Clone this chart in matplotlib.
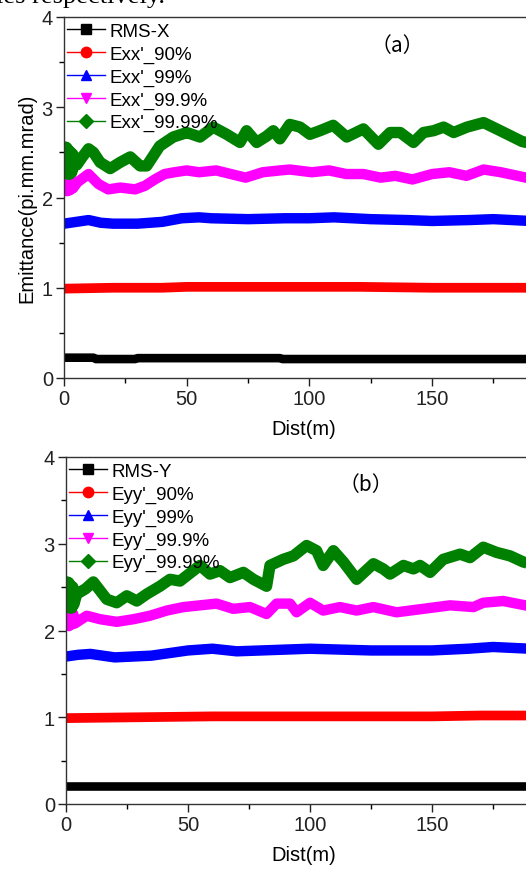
import matplotlib
matplotlib.use("Agg")
import matplotlib.pyplot as plt
from matplotlib.lines import Line2D
from matplotlib.ticker import MultipleLocator

# ---------------- data ----------------
# Panel (a)
a_black_d = [0, 12, 13, 29, 30, 88, 89, 190]
a_black_v = [0.225, 0.225, 0.21, 0.21, 0.22, 0.22, 0.21, 0.21]

a_red_d = [0, 20, 40, 50, 80, 120, 150, 190]
a_red_v = [0.99, 1.0, 1.0, 1.01, 1.01, 1.01, 1.0, 1.0]

a_blue_d = [0, 5, 10, 15, 20, 30, 40, 48, 55, 60, 75, 90, 100, 110, 125, 140, 150, 165, 175, 190]
a_blue_v = [1.71, 1.73, 1.75, 1.72, 1.71, 1.71, 1.73, 1.77, 1.78, 1.77, 1.76, 1.77, 1.77, 1.78,
            1.76, 1.75, 1.74, 1.75, 1.76, 1.74]

a_mag_d = [0, 0.6, 1.2, 1.8, 2.4, 3, 3.6, 5.5, 10, 14, 18, 23, 29, 33, 37, 41, 45, 50, 55, 62,
           68, 74, 81, 88, 92, 101, 108, 115, 122, 129, 135, 142, 150, 157, 164, 171, 178, 190]
a_mag_v = [2.06, 2.2, 2.07, 2.22, 2.08, 2.2, 2.1, 2.17, 2.26, 2.15, 2.09, 2.11, 2.09, 2.13,
           2.2, 2.26, 2.28, 2.3, 2.28, 2.3, 2.26, 2.22, 2.28, 2.3, 2.31, 2.28, 2.3, 2.26, 2.26,
           2.22, 2.24, 2.2, 2.26, 2.28, 2.24, 2.31, 2.28, 2.21]

a_grn_d = [0, 0.4, 0.8, 1.2, 1.6, 2.0, 2.4, 2.8, 3.2, 3.6, 5.2, 7.5, 10, 12, 14.7, 18.8, 22.9,
           27, 31, 33.7, 39, 44.5, 47.9, 50, 55.4, 60.8, 66.3, 71.7, 74.4, 78.5, 82.6, 85.3,
           88, 92, 96.2, 100.2, 104.3, 109.7, 115.2, 122, 128.1, 132.9, 137, 142.4, 146.5,
           150.6, 154.7, 158.8, 164.2, 171, 177.8, 186.7, 190]
a_grn_v = [2.3, 2.56, 2.28, 2.55, 2.26, 2.52, 2.26, 2.5, 2.28, 2.48, 2.36, 2.45, 2.54, 2.5,
           2.39, 2.32, 2.39, 2.45, 2.35, 2.35, 2.57, 2.67, 2.7, 2.72, 2.67, 2.78, 2.7, 2.61,
           2.74, 2.61, 2.68, 2.74, 2.65, 2.81, 2.78, 2.7, 2.74, 2.8, 2.67, 2.76, 2.59, 2.72,
           2.72, 2.61, 2.72, 2.74, 2.78, 2.72, 2.78, 2.83, 2.74, 2.62, 2.6]

# Panel (b)
b_black_d = [0, 190]
b_black_v = [0.21, 0.21]

b_red_d = [0, 30, 60, 100, 150, 170, 190]
b_red_v = [0.99, 1.0, 1.01, 1.01, 1.01, 1.02, 1.02]

b_blue_d = [0, 5, 10, 20, 35, 50, 60, 70, 80, 90, 100, 125, 150, 165, 175, 190]
b_blue_v = [1.70, 1.72, 1.73, 1.69, 1.71, 1.77, 1.79, 1.76, 1.77, 1.78, 1.79, 1.77,
            1.77, 1.79, 1.81, 1.79]

b_mag_d = [0, 0.6, 1.2, 1.8, 2.4, 3, 3.6, 8.5, 14, 20.8, 27.6, 34.4, 41.3, 48.1, 54.9, 61.7,
           68.5, 75.4, 82.2, 86.3, 91.8, 94.5, 100, 105.4, 112.3, 119.1, 126, 135.5, 146.5,
           157.4, 167, 171, 179.2, 190]
b_mag_v = [2.04, 2.17, 2.05, 2.19, 2.07, 2.19, 2.08, 2.17, 2.13, 2.1, 2.13, 2.17, 2.23, 2.27,
           2.29, 2.31, 2.25, 2.27, 2.19, 2.31, 2.31, 2.21, 2.32, 2.23, 2.27, 2.23, 2.27, 2.21,
           2.25, 2.29, 2.27, 2.32, 2.34, 2.28]

b_grn_d = [0, 0.4, 0.8, 1.2, 1.6, 2.0, 2.4, 2.8, 3.2, 4.4, 8, 11.2, 16.7, 20.8, 24.9, 29,
           33.1, 38.5, 42.6, 46.7, 52.2, 54.9, 59, 63.1, 67.2, 72.7, 76.8, 82.2, 83.6, 89,
           93.2, 98.6, 102.7, 105.4, 109.6, 113.7, 119.1, 126, 130, 132.8, 138.3, 142.4,
           145.1, 149.2, 154.6, 161.5, 165.6, 171, 176.5, 182, 187.4, 190]
b_grn_v = [2.3, 2.56, 2.27, 2.55, 2.26, 2.52, 2.26, 2.5, 2.3, 2.42, 2.48, 2.56, 2.36, 2.32,
           2.4, 2.34, 2.42, 2.51, 2.59, 2.57, 2.69, 2.75, 2.65, 2.69, 2.61, 2.67, 2.59, 2.51,
           2.75, 2.82, 2.86, 2.98, 2.92, 2.75, 2.92, 2.79, 2.59, 2.77, 2.71, 2.65, 2.75,
           2.71, 2.75, 2.67, 2.82, 2.88, 2.84, 2.96, 2.9, 2.86, 2.79, 2.77]

x_ticks = [0, 50, 100, 150]
y_ticks = [0, 1, 2, 3, 4]
labels_a = ["RMS-X", "Exx'_90%", "Exx'_99%", "Exx'_99.9%", "Exx'_99.99%"]
labels_b = ["RMS-Y", "Eyy'_90%", "Eyy'_99%", "Eyy'_99.9%", "Eyy'_99.99%"]

colors = ["black", "#ff0000", "#0000ff", "#ff00ff", "#008000"]
markers = ["s", "o", "^", "v", "D"]
lws = [6.2, 7.0, 7.5, 7.5, 8.2]

plt.rcParams['font.family'] = ['Liberation Sans', 'DejaVu Sans']

W, H = 526, 870
fig = plt.figure(figsize=(W / 100, H / 100), dpi=100)

XMAX = 195


def make_axes(left_px, top_px, bottom_px, px_per_unit):
    width_px = XMAX * px_per_unit
    return fig.add_axes([left_px / W, 1 - bottom_px / H, width_px / W, (bottom_px - top_px) / H])


def draw_panel(ax, series, labels, tag, tag_xy):
    for (d, v), c, lw in zip(series, colors, lws):
        ax.plot(d, v, color=c, lw=lw, solid_joinstyle='round', solid_capstyle='butt')
    ax.set_xlim(0, XMAX)
    ax.set_ylim(0, 4)
    ax.set_xticks(x_ticks)
    ax.set_yticks(y_ticks)
    ax.xaxis.set_minor_locator(MultipleLocator(25))
    ax.yaxis.set_minor_locator(MultipleLocator(0.5))
    ax.tick_params(which='major', direction='out', length=6, width=1, labelsize=14.5, pad=2,
                   colors='#222222')
    ax.tick_params(which='minor', direction='out', length=3.5, width=1)
    ax.spines['right'].set_visible(False)
    for s in ax.spines.values():
        s.set_linewidth(1)
        s.set_color('#333333')
    ax.set_xlabel("Dist(m)", fontsize=14.5, labelpad=8)
    handles = [Line2D([], [], color=c, marker=m, markersize=7.5, lw=1)
               for c, m in zip(colors, markers)]
    ax.legend(handles, labels, loc='upper left', bbox_to_anchor=(-0.005, 1.0), frameon=False,
              fontsize=13.5, handlelength=2.0, handletextpad=0.25, labelspacing=0.3,
              borderaxespad=0.1, borderpad=0.2)
    ax.text(tag_xy[0], tag_xy[1], tag, fontsize=15, ha='center', va='center',
            family=['Noto Sans CJK SC', 'DejaVu Sans'])


ax1 = make_axes(64, 18, 379, 2.454)
draw_panel(ax1, [(a_black_d, a_black_v), (a_red_d, a_red_v), (a_blue_d, a_blue_v),
                 (a_mag_d, a_mag_v), (a_grn_d, a_grn_v)], labels_a, "（a）", (136, 3.69))
ax1.set_ylabel("Emittance(pi.mm.mrad)", fontsize=14.5, labelpad=4)

ax2 = make_axes(66, 458, 805, 2.44)
draw_panel(ax2, [(b_black_d, b_black_v), (b_red_d, b_red_v), (b_blue_d, b_blue_v),
                 (b_mag_d, b_mag_v), (b_grn_d, b_grn_v)], labels_b, "（b）", (123, 3.69))

fig.text(165 / W, 1 - 3 / H, "ies respectively.", ha='right', va='baseline',
         family='Liberation Serif', fontsize=19)

fig.savefig("out.png", dpi=100)
